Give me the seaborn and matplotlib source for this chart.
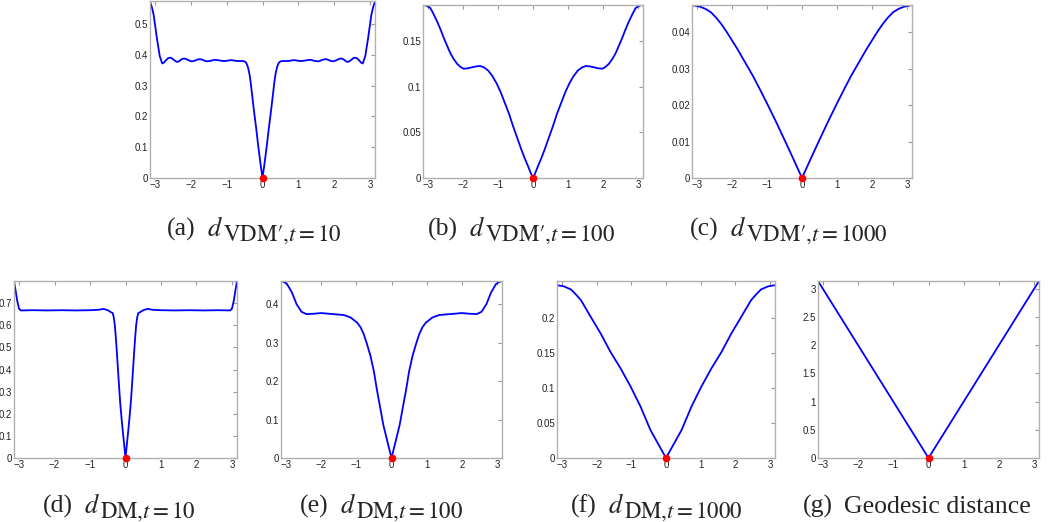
import numpy as np
import seaborn as sns
import matplotlib.pyplot as plt
from matplotlib.ticker import FuncFormatter

# ----- data -----
PI = 3.1416

# (a) d_VDM', t=10
xa = [-PI, -3.09, -3.04, -2.95, -2.87, -2.80, -2.75, -2.70, -2.64, -2.57, -2.52, -2.47, -2.42, -2.38,
      -2.33, -2.29, -2.24, -2.20, -2.14, -2.09, -2.03, -1.98, -1.92, -1.87, -1.81, -1.76, -1.70,
      -1.65, -1.60, -1.55, -1.49, -1.43, -1.38, -1.32, -1.26, -1.21, -1.15, -1.10, -1.04, -0.99,
      -0.93, -0.88, -0.82, -0.77, -0.71, -0.66, -0.60, -0.55, -0.51, -0.48, -0.45, -0.42, -0.39,
      -0.36, -0.33, -0.30, -0.24, -0.18, -0.12, -0.06, 0.0,
      0.06, 0.12, 0.18, 0.24, 0.30, 0.33, 0.36, 0.39, 0.42, 0.45, 0.48, 0.51, 0.55, 0.60, 0.66,
      0.71, 0.77, 0.82, 0.88, 0.93, 0.99, 1.04, 1.10, 1.15, 1.21, 1.26, 1.32, 1.38, 1.43, 1.49,
      1.55, 1.60, 1.65, 1.70, 1.76, 1.81, 1.87, 1.92, 1.98, 2.03, 2.09, 2.14, 2.20, 2.24, 2.29,
      2.33, 2.38, 2.42, 2.47, 2.52, 2.57, 2.64, 2.70, 2.75, 2.80, 2.87, 2.95, 3.04, 3.09, PI]
ya = [0.573, 0.555, 0.530, 0.455, 0.396, 0.372, 0.375, 0.382, 0.389, 0.391, 0.388, 0.383, 0.379, 0.377,
      0.379, 0.383, 0.387, 0.388, 0.387, 0.384, 0.381, 0.379, 0.380, 0.382, 0.385, 0.386, 0.385,
      0.383, 0.380, 0.379, 0.380, 0.381, 0.383, 0.384, 0.383, 0.382, 0.381, 0.380, 0.380, 0.381,
      0.382, 0.383, 0.382, 0.381, 0.380, 0.380, 0.380, 0.380, 0.379, 0.377, 0.373, 0.365, 0.352,
      0.335, 0.310, 0.280, 0.220, 0.165, 0.105, 0.050, 0.0,
      0.050, 0.105, 0.165, 0.220, 0.280, 0.310, 0.335, 0.352, 0.365, 0.373, 0.377, 0.379, 0.380, 0.380, 0.380,
      0.380, 0.381, 0.382, 0.383, 0.382, 0.381, 0.380, 0.380, 0.381, 0.382, 0.383, 0.384, 0.383, 0.381, 0.380,
      0.379, 0.380, 0.383, 0.385, 0.386, 0.385, 0.382, 0.380, 0.379, 0.381, 0.384, 0.387, 0.388, 0.387, 0.383,
      0.379, 0.377, 0.379, 0.383, 0.388, 0.391, 0.389, 0.382, 0.375, 0.372, 0.396, 0.455, 0.530, 0.555, 0.573]

# (b) d_VDM', t=100
xb = [-PI, -3.05, -2.93, -2.84, -2.74, -2.64, -2.55, -2.45, -2.36, -2.27, -2.17, -2.07, -1.98,
      -1.86, -1.75, -1.63, -1.51, -1.40, -1.28, -1.16, -1.04, -0.92, -0.80, -0.68, -0.57,
      -0.45, -0.33, -0.24, -0.14, -0.07, 0.0,
      0.07, 0.14, 0.24, 0.33, 0.45, 0.57, 0.68, 0.80, 0.92, 1.04, 1.16, 1.28, 1.40, 1.51,
      1.63, 1.75, 1.86, 1.98, 2.07, 2.17, 2.27, 2.36, 2.45, 2.55, 2.64, 2.74, 2.84, 2.93, 3.05, PI]
yb = [0.190, 0.1895, 0.1866, 0.180, 0.172, 0.163, 0.154, 0.145, 0.137, 0.131, 0.1255, 0.122, 0.120,
      0.1205, 0.1215, 0.1225, 0.123, 0.1215, 0.118, 0.112, 0.104, 0.094, 0.082, 0.070, 0.057,
      0.044, 0.031, 0.022, 0.0128, 0.006, 0.0,
      0.006, 0.0128, 0.022, 0.031, 0.044, 0.057, 0.070, 0.082, 0.094, 0.104, 0.112, 0.118, 0.1215, 0.123,
      0.1225, 0.1215, 0.1205, 0.120, 0.122, 0.1255, 0.131, 0.137, 0.145, 0.154, 0.163, 0.172, 0.180, 0.1866, 0.1895, 0.190]

# (c) d_VDM', t=1000
xc = [-PI, -2.9, -2.75, -2.6, -2.45, -2.3, -2.15, -2.0, -1.85, -1.7, -1.55, -1.4, -1.2, -1.0,
      -0.75, -0.5, -0.25, 0.0, 0.25, 0.5, 0.75, 1.0, 1.2, 1.4, 1.55, 1.7, 1.85, 2.0, 2.15,
      2.3, 2.45, 2.6, 2.75, 2.9, PI]
yc = [0.0475, 0.0470, 0.0464, 0.0455, 0.0440, 0.0422, 0.0401, 0.0378, 0.0355, 0.0330, 0.0305,
      0.0280, 0.0243, 0.0205, 0.0156, 0.0105, 0.0053, 0.0, 0.0053, 0.0105, 0.0156, 0.0205,
      0.0243, 0.0280, 0.0305, 0.0330, 0.0355, 0.0378, 0.0401, 0.0422, 0.0440, 0.0455, 0.0464,
      0.0470, 0.0475]

# (d) d_DM, t=10
xd = [-PI, -3.10, -3.05, -3.00, -2.95, -2.60, -2.20, -1.80, -1.40, -1.00, -0.75, -0.62, -0.50,
      -0.42, -0.36, -0.33, -0.30, -0.27, -0.24, -0.20, -0.15, -0.10, -0.05, 0.0,
      0.05, 0.10, 0.15, 0.20, 0.24, 0.27, 0.30, 0.33, 0.36, 0.42, 0.50, 0.62, 0.75, 1.00,
      1.40, 1.80, 2.20, 2.60, 2.95, 3.00, 3.05, 3.10, PI]
yd = [0.800, 0.760, 0.710, 0.675, 0.667, 0.668, 0.667, 0.668, 0.667, 0.668, 0.670, 0.674, 0.668,
      0.660, 0.655, 0.635, 0.600, 0.540, 0.470, 0.370, 0.250, 0.160, 0.080, 0.0,
      0.080, 0.160, 0.250, 0.370, 0.470, 0.540, 0.600, 0.635, 0.655, 0.660, 0.668, 0.674, 0.670, 0.668,
      0.667, 0.668, 0.667, 0.668, 0.667, 0.675, 0.710, 0.760, 0.800]

# (e) d_DM, t=100
xe = [-PI, -3.05, -2.97, -2.83, -2.70, -2.56, -2.42, -2.20, -2.00, -1.67, -1.35, -1.16, -0.98,
      -0.88, -0.79, -0.70, -0.60, -0.50, -0.42, -0.32, -0.23, -0.09, 0.0,
      0.09, 0.23, 0.32, 0.42, 0.50, 0.60, 0.70, 0.79, 0.88, 0.98, 1.16, 1.35, 1.67, 2.00,
      2.20, 2.42, 2.56, 2.70, 2.83, 2.97, 3.05, PI]
ye = [0.460, 0.457, 0.452, 0.430, 0.400, 0.380, 0.374, 0.375, 0.3767, 0.374, 0.3715, 0.365, 0.352,
      0.340, 0.322, 0.297, 0.266, 0.225, 0.180, 0.130, 0.085, 0.033, 0.0,
      0.033, 0.085, 0.130, 0.180, 0.225, 0.266, 0.297, 0.322, 0.340, 0.352, 0.365, 0.3715, 0.374, 0.3767,
      0.375, 0.374, 0.380, 0.400, 0.430, 0.452, 0.457, 0.460]

# (f) d_DM, t=1000
xf = [-PI, -2.95, -2.74, -2.60, -2.45, -2.17, -1.88, -1.60, -1.31, -1.02, -0.735, -0.45, -0.16, 0.0,
      0.16, 0.45, 0.735, 1.02, 1.31, 1.60, 1.88, 2.17, 2.45, 2.60, 2.74, 2.95, PI]
yf = [0.246, 0.2445, 0.240, 0.233, 0.2246, 0.201, 0.177, 0.151, 0.1277, 0.1017, 0.0733, 0.040, 0.0142, 0.0,
      0.0142, 0.040, 0.0733, 0.1017, 0.1277, 0.151, 0.177, 0.201, 0.2246, 0.233, 0.240, 0.2445, 0.246]

# (g) geodesic distance
xg = [-PI, 0.0, PI]
yg = [PI, 0.0, PI]

dot_x = [0.0]
dot_y = [0.0]

panels = [
    (xa, ya, 0.575, [0, 0.1, 0.2, 0.3, 0.4, 0.5]),
    (xb, yb, 0.190, [0, 0.05, 0.1, 0.15]),
    (xc, yc, 0.0475, [0, 0.01, 0.02, 0.03, 0.04]),
    (xd, yd, 0.80, [0, 0.1, 0.2, 0.3, 0.4, 0.5, 0.6, 0.7]),
    (xe, ye, 0.46, [0, 0.1, 0.2, 0.3, 0.4]),
    (xf, yf, 0.252, [0, 0.05, 0.1, 0.15, 0.2]),
    (xg, yg, PI, [0, 0.5, 1, 1.5, 2, 2.5, 3]),
]
xticks = [-3, -2, -1, 0, 1, 2, 3]

# caption: label, main symbol, subscript, left px, baseline px
captions = [
    ("(a)", "d", r"\mathrm{VDM′}{,}t=10", 167, 236),
    ("(b)", "d", r"\mathrm{VDM′}{,}t=100", 428, 236),
    ("(c)", "d", r"\mathrm{VDM′}{,}t=1000", 690, 236),
    ("(d)", "d", r"\mathrm{DM}{,}t=10", 43, 513),
    ("(e)", "d", r"\mathrm{DM}{,}t=100", 300, 513),
    ("(f)", "d", r"\mathrm{DM}{,}t=1000", 571, 513),
    ("(g)", "Geodesic distance", None, 803, 513),
]

# axes boxes in pixels: left, top, right, bottom
boxes = [
    (150, 1, 375, 178), (423, 5, 643, 178), (692, 5, 912, 178),
    (14, 281, 237, 458), (281, 281, 502, 458), (557, 281, 775, 458), (818, 281, 1039, 458),
]

sns.set_style("white")
plt.rcParams['font.family'] = ['Liberation Sans', 'DejaVu Sans']
plt.rcParams['mathtext.fontset'] = 'stix'
serif = ["Liberation Serif", "DejaVu Serif"]

W, H = 1050, 522
fig = plt.figure(figsize=(W / 100, H / 100), dpi=100)

fmt = FuncFormatter(lambda v, p: f"{v:g}".replace("-", "\u2212"))

for (x, y, ytop, yt), (l, t, r, b) in zip(panels, boxes):
    ax = fig.add_axes([l / W, 1 - b / H, (r - l) / W, (b - t) / H])
    sns.lineplot(x=x, y=y, ax=ax, color="#0000ff", linewidth=1.3)
    ax.plot(dot_x, dot_y, "o", color="red", ms=4.5, clip_on=False, zorder=5)
    ax.set_xlim(-PI, PI)
    ax.set_ylim(0, ytop)
    ax.set_xticks(xticks)
    ax.set_yticks(yt)
    ax.xaxis.set_major_formatter(fmt)
    ax.yaxis.set_major_formatter(fmt)
    ax.tick_params(direction="in", top=True, right=True, length=3, width=0.8,
                   color="#999999", labelsize=7, labelcolor="#222222", pad=1.5)
    for s in ax.spines.values():
        s.set_color("#b0b0b0")
        s.set_linewidth(1.0)

# captions built from pieces so the subscript can be nearly full size
renderer = fig.canvas.get_renderer()
for label, main, sub, left, base in captions:
    t1 = fig.text(left / W, 1 - base / H, label, fontsize=18.5, family=serif,
                  ha="left", va="baseline")
    x1 = t1.get_window_extent(renderer).x1 + 11
    if sub is None:
        fig.text(x1 / W, 1 - base / H, main, fontsize=18.5, family=serif,
                 ha="left", va="baseline")
        continue
    t2 = fig.text(x1 / W, 1 - base / H, f"${main}$", fontsize=19,
                  ha="left", va="baseline")
    x2 = t2.get_window_extent(renderer).x1
    fig.text(x2 / W, 1 - (base + 4.5) / H, f"${sub}$", fontsize=16.5,
             ha="left", va="baseline")

fig.savefig("out.png", dpi=100)
